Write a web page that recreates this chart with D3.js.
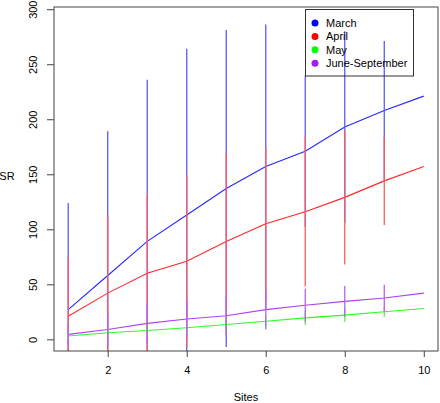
<!DOCTYPE html>
<html>
<head>
<meta charset="utf-8">
<script src="https://cdn.jsdelivr.net/npm/d3@7"></script>
<style>
  html, body { margin: 0; padding: 0; background: #fff; }
  svg { display: block; font-family: "Liberation Sans", Arial, sans-serif; }
</style>
</head>
<body>
<svg id="chart" width="440" height="403"></svg>
<script>
// ---- data ----
const sites = [1, 2, 3, 4, 5, 6, 7, 8, 9, 10];
const seriesNames = ["March", "April", "May", "June-September"];
const seriesColors = ["#0000ff", "#ff0000", "#00ff00", "#a020f0"];
const barColors = ["#5a5aff", "#ff5a5a", "#5aee5a", "#b860f2"];
const marchMean = [27, 58, 89, 113, 137, 157, 171, 193, 208, 221];
const marchSD   = [97, 131, 147, 151, 144, 129, 69, 87, 63, null];
const aprilMean = [21, 42, 60, 71, 89, 105, 116, 129, 144, 157];
const aprilSD   = [54, 70, 72, 78, 80, 70, 68, 61, 40, null];
const mayMean   = [3, 6, 8, 10.5, 13.5, 16.5, 19.5, 22, 25, 28];
const maySD     = [3, 4, 5, 5, 6, 6, 6.5, 6, 4.5, null];
const juneMean  = [4.5, 9, 14.5, 18.5, 21.5, 27, 31, 34.5, 37.5, 42];
const juneSD    = [9, 14.8, 18, 17, 18, 18, 15, 14, 12, null];
const xTicks = [2, 4, 6, 8, 10];
const yTicks = [0, 50, 100, 150, 200, 250, 300];
const xLabel = "Sites";
const yLabel = "SR";

const means = [marchMean, aprilMean, mayMean, juneMean];
const sds = [marchSD, aprilSD, maySD, juneSD];

// ---- layout ----
const L = 54, R = 438, T = 7, B = 351;
const FS = 11;
const svg = d3.select("#chart");
const x = d3.scaleLinear().domain([0.64, 10.36]).range([L, R]);
const y = d3.scaleLinear().domain([-10.6, 302]).range([B, T]);

svg.append("defs").append("clipPath").attr("id", "plotclip")
  .append("rect").attr("x", L).attr("y", T).attr("width", R - L).attr("height", B - T);

const plot = svg.append("g").attr("clip-path", "url(#plotclip)");

// lines
const line = d3.line().x((d, i) => x(sites[i])).y(d => y(d));
means.forEach((m, k) => {
  plot.append("path").datum(m)
    .attr("fill", "none")
    .attr("stroke", seriesColors[k])
    .attr("stroke-opacity", 0.85)
    .attr("stroke-width", 1.1)
    .attr("d", line);
});

// error bars (mean ± sd)
means.forEach((m, k) => {
  plot.append("g").selectAll("line")
    .data(m.map((v, i) => ({ v, s: sds[k][i], site: sites[i] })).filter(d => d.s != null))
    .join("line")
    .attr("x1", d => x(d.site)).attr("x2", d => x(d.site))
    .attr("y1", d => y(d.v + d.s)).attr("y2", d => y(d.v - d.s))
    .attr("stroke", barColors[k])
    .attr("stroke-width", 1.3);
});

// box
svg.append("rect").attr("x", L).attr("y", T).attr("width", R - L).attr("height", B - T)
  .attr("fill", "none").attr("stroke", "#444").attr("stroke-width", 1);

// x axis (R style: line from first to last tick, hidden by the box)
const xAxis = svg.append("g").attr("transform", `translate(0,${B})`)
  .call(d3.axisBottom(x).tickValues(xTicks).tickSize(6).tickSizeOuter(0).tickPadding(9).tickFormat(d3.format("d")));
xAxis.select(".domain").remove();
xAxis.selectAll(".tick line").attr("stroke", "#444");
xAxis.selectAll("text").attr("font-size", FS).attr("fill", "#000")
  .attr("font-family", "Liberation Sans, Arial, sans-serif");

// y axis
const yAxis = svg.append("g").attr("transform", `translate(${L},0)`)
  .call(d3.axisLeft(y).tickValues(yTicks).tickSize(7).tickSizeOuter(0).tickFormat(d3.format("d")));
yAxis.select(".domain").remove();
yAxis.selectAll(".tick line").attr("stroke", "#444");
yAxis.selectAll("text")
  .attr("font-size", FS).attr("fill", "#000")
  .attr("font-family", "Liberation Sans, Arial, sans-serif")
  .attr("x", 0).attr("dy", null)
  .attr("text-anchor", "middle")
  .attr("dominant-baseline", "central")
  .attr("transform", "translate(-21,0) rotate(-90)");

// axis titles
svg.append("text").attr("x", (L + R) / 2).attr("y", 397)
  .attr("text-anchor", "middle").attr("dominant-baseline", "central")
  .attr("font-size", FS).text(xLabel);
svg.append("text").attr("x", 7).attr("y", 176)
  .attr("text-anchor", "middle").attr("dominant-baseline", "central")
  .attr("font-size", FS).text(yLabel);

// legend
const lg = svg.append("g");
lg.append("rect").attr("x", 305.5).attr("y", 9.5).attr("width", 108).attr("height", 66.5)
  .attr("fill", "none").attr("stroke", "#333").attr("stroke-width", 1);
seriesNames.forEach((name, i) => {
  const cy = 23 + i * 13.4;
  lg.append("circle").attr("cx", 315).attr("cy", cy).attr("r", 3.5).attr("fill", seriesColors[i]);
  lg.append("text").attr("x", 326).attr("y", cy).attr("dominant-baseline", "central")
    .attr("font-size", FS).attr("fill", "#000").text(name);
});
</script>
</body>
</html>
